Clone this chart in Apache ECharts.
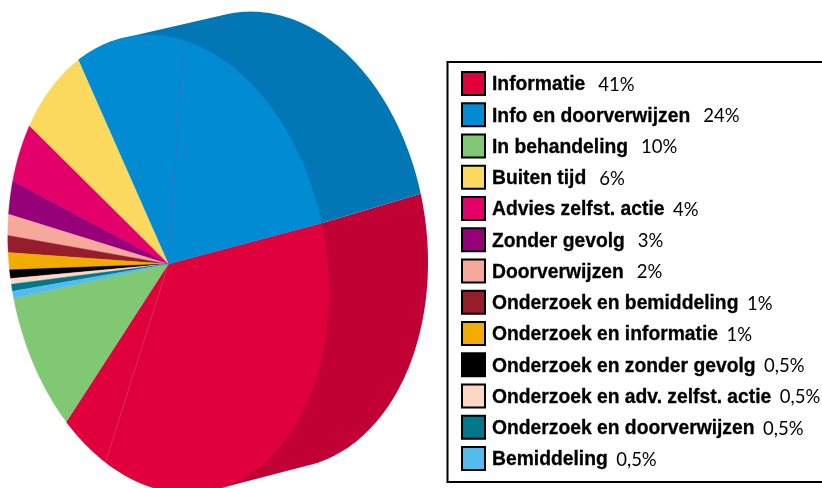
<!DOCTYPE html>
<html><head><meta charset="utf-8">
<style>html,body{margin:0;padding:0;background:#fff}#c{width:822px;height:488px}</style>
<script src="https://cdn.jsdelivr.net/npm/echarts@6/dist/echarts.min.js"></script></head>
<body><div id="c"></div>
<script>
const categories = ['Informatie','Info en doorverwijzen','In behandeling','Buiten tijd','Advies zelfst. actie','Zonder gevolg','Doorverwijzen','Onderzoek en bemiddeling','Onderzoek en informatie','Onderzoek en zonder gevolg','Onderzoek en adv. zelfst. actie','Onderzoek en doorverwijzen','Bemiddeling'];
const percentLabels = ['41%','24%','10%','6%','4%','3%','2%','1%','1%','0,5%','0,5%','0,5%','0,5%'];
// slice sizes as measured on the picture (the blue slice is drawn larger than its label says)
const sliceShares = [40.8,29.7,9.7,7.2,4.4,2.4,1.5,1.2,1.2,0.6,0.4,0.5,0.5];
const clockwiseOrder = [0,2,12,11,10,9,8,7,6,5,4,3,1];
const seamPositions = [36.2,81.4];
const colors = ['#e0003c','#008bd2','#80c874','#fbd95f','#e3006b','#960078','#f6a99a','#951d2c','#f2ab00','#000000','#fdd7c4','#00778b','#54bced'];
const wallColors = {0:'#c10033',1:'#0178b5'};
const tightGap = new Set(['Advies zelfst. actie','Onderzoek en bemiddeling','Onderzoek en informatie','Onderzoek en zonder gevolg','Onderzoek en adv. zelfst. actie','Onderzoek en doorverwijzen','Bemiddeling']);

const front = {cx:168.3,cy:264,a:160.5,b:28,c:227.3};
const back  = {cx:266.5,cy:240,a:161.5,b:22.3,c:227.3};
const startDeg = -17.3;
const rim = (e,pos)=>{const t=(startDeg+pos*3.6)*Math.PI/180;return [e.cx+e.a*Math.cos(t),e.cy+e.b*Math.cos(t)+e.c*Math.sin(t)];};
const steps = (p0,p1)=>{const n=Math.max(2,Math.ceil(Math.abs(p1-p0)*3)),o=[];for(let i=0;i<=n;i++)o.push(p0+(p1-p0)*i/n);return o;};
const arc = (e,p0,p1)=>steps(p0,p1).map(p=>rim(e,p));
const hull = pts=>{
  const s=pts.slice().sort((a,b)=>a[0]-b[0]||a[1]-b[1]);
  const cross=(o,a,b)=>(a[0]-o[0])*(b[1]-o[1])-(a[1]-o[1])*(b[0]-o[0]);
  const half=list=>{const h=[];list.forEach(p=>{while(h.length>1&&cross(h[h.length-2],h[h.length-1],p)<=0)h.pop();h.push(p);});h.pop();return h;};
  return half(s).concat(half(s.slice().reverse()));
};

const total = sliceShares.reduce((s,v)=>s+v,0);
const spans = {}; let run = 0;
clockwiseOrder.forEach(i=>{const v=sliceShares[i]/total*100;spans[i]=[run,run+v];run+=v;});

const sliceSeries = categories.map((name,i)=>({
  type:'custom',name,coordinateSystem:'none',z:3,silent:true,
  itemStyle:{color:colors[i]},
  data:[spans[i]],
  renderItem:(p,api)=>({type:'polygon',
    shape:{points:[[front.cx,front.cy]].concat(arc(front,api.value(0),api.value(1)))},
    style:{fill:colors[i],stroke:colors[i],lineWidth:0.4}})
}));
const wallSeries = [0,1].map(i=>({
  type:'custom',name:'wall'+i,coordinateSystem:'none',z:2,silent:true,
  data:[spans[i]],
  renderItem:(p,api)=>({type:'polygon',
    shape:{points:hull(arc(front,api.value(0),api.value(1)).concat(arc(back,api.value(0),api.value(1))))},
    style:{fill:wallColors[i]}})
}));
const seamSeries = {
  type:'custom',name:'seams',coordinateSystem:'none',z:4,silent:true,
  data:seamPositions.map(v=>[v]),
  renderItem:(p,api)=>{const e=rim(front,api.value(0));
    return {type:'line',shape:{x1:front.cx,y1:front.cy,x2:e[0],y2:e[1]},
      style:{stroke:p.dataIndex===0?'rgba(200,120,140,0.55)':'rgba(110,90,170,0.6)',lineWidth:0.7,fill:null}};}
};
const pBase = {fontFamily:'Lato',fontSize:18.5,color:'#000',lineHeight:20};

const chart = echarts.init(document.getElementById('c'),null,{renderer:'canvas'});
chart.setOption({
  animation:false,backgroundColor:'#fff',
  graphic:[{type:'rect',z:0,silent:true,shape:{x:447.5,y:62,width:400,height:420},
    style:{fill:'#fff',stroke:'#000',lineWidth:2}}],
  legend:{
    orient:'vertical',left:461,top:71,bottom:0,padding:0,itemWidth:23,itemHeight:23,itemGap:6.25,icon:'rect',
    selectedMode:false,
    data:categories.map((name,i)=>({name,itemStyle:{color:colors[i],borderColor:'#000',borderWidth:2}})),
    formatter:n=>`{n|${n}}{${tightGap.has(n)?'t':'w'}|${percentLabels[categories.indexOf(n)]}}`,
    textStyle:{rich:{
      n:{fontFamily:'"Liberation Sans Narrow","Liberation Sans"',fontWeight:'bold',fontSize:19.3,color:'#000',lineHeight:20,textBorderColor:'#000',textBorderWidth:0.3,padding:[3,0,0,2]},
      t:Object.assign({padding:[3,0,0,8.5]},pBase),
      w:Object.assign({padding:[3,0,0,13]},pBase)
    }}
  },
  series:sliceSeries.concat(wallSeries,[seamSeries])
});
</script></body></html>
